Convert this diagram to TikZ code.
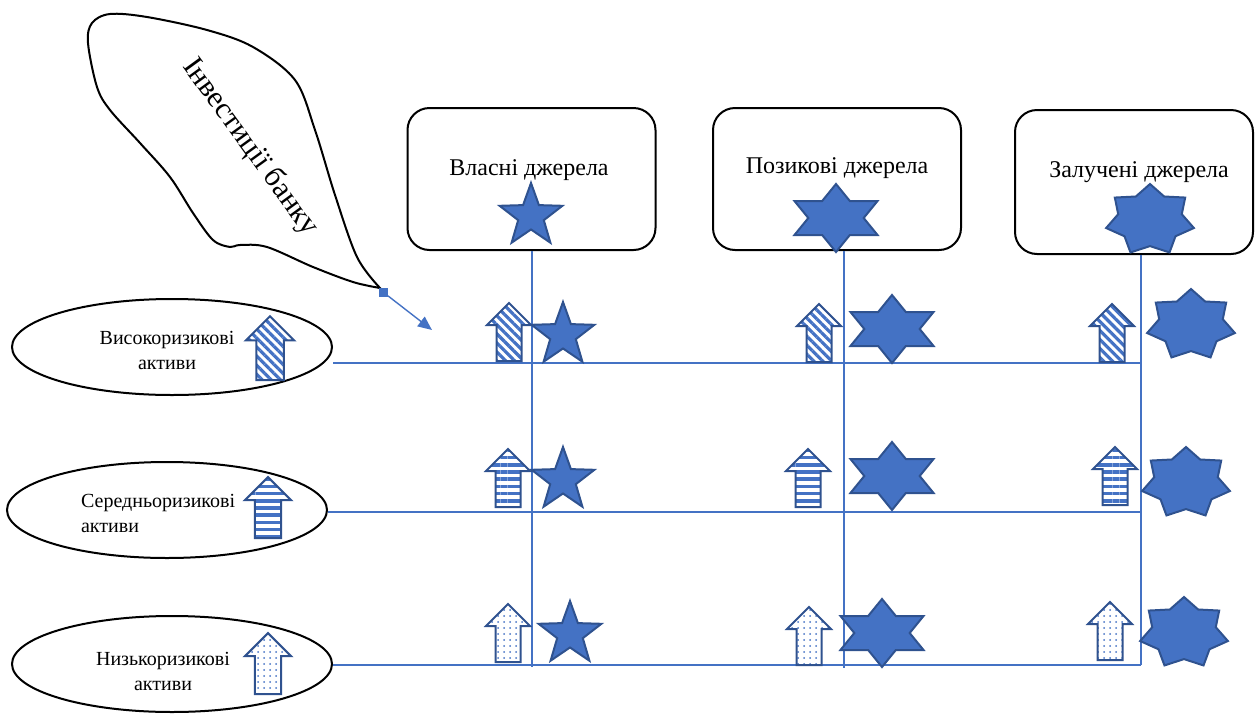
\documentclass[tikz,border=0pt]{standalone}
\usepackage{fontspec}
\setmainfont{Liberation Serif}
\usepackage{xcolor}
\definecolor{riskBlue}{RGB}{68, 114, 196}
\definecolor{riskEdge}{RGB}{47, 82, 143}
\usepackage{tikz}
\usetikzlibrary{arrows.meta, positioning, shapes.geometric, patterns.meta}

\tikzset{
    srcbox/.style={draw, line width=1pt, rounded corners=11pt, minimum width=124pt, minimum height=71pt, inner sep=0pt},
    assetell/.style={ellipse, draw, line width=1pt, minimum width=160pt, minimum height=48pt, inner sep=0pt},
    gridline/.style={draw=riskBlue, line width=0.6pt},
    starbase/.style={star, draw=riskEdge, fill=riskBlue, line width=1pt, inner sep=0pt, transform shape},
    starfive/.style={starbase, star points=5, star point ratio=2.45, minimum size=#1},
    starsix/.style={starbase, star points=6, star point ratio=1.732, xscale=1.41, minimum size=#1},
    starseven/.style={starbase, star points=7, star point ratio=1.38, xscale=1.25, minimum size=#1},
    riskarrow/.pic={
        \path[pic actions] (-12.5,0) -- (-12.5,-36) -- (-22,-36) -- (0,-58)
            -- (22,-36) -- (12.5,-36) -- (12.5,0) -- cycle;
    },
    highrisk/.style={draw=riskEdge, line width=1pt, pattern={Lines[angle=-45, distance=3.2pt, line width=1.6pt]}, pattern color=riskBlue},
    midrisk/.style={draw=riskEdge, line width=1pt, pattern={Lines[distance=3.6pt, line width=1.8pt]}, pattern color=riskBlue},
    lowrisk/.style={draw=riskEdge, line width=1pt, pattern={Dots[distance=3pt, radius=0.5pt]}, pattern color=riskBlue},
}

\begin{document}
\begin{tikzpicture}[x=0.5pt, y=-0.5pt]
    \useasboundingbox (0,0) rectangle (1255,724);

    % callout
    \draw[line width=1pt] plot[smooth, tension=0.55] coordinates {
        (380,288) (357,257) (335,195) (315,130) (295,80) (253,47) (207,30)
        (147,17) (110,14) (92,23) (88,43) (97,87) (110,110) (140,143)
        (170,177) (193,213) (213,240) (230,247) (240,245) (267,247)
        (313,267) (353,282) (380,288)} -- cycle;
    \node[rotate=-54, font=\fontsize{15}{18}\selectfont] (calltxt) at (250,147) {Інвестиції банку};
    \node[fill=riskBlue, minimum size=4.5pt, inner sep=0pt] (tail) at (383,292) {};
    \coordinate (aim) at (432,330);
    \draw[riskBlue, line width=0.7pt, -{Triangle[length=7pt, width=6pt]}] (tail) -- (aim);

    % sources
    \node[srcbox] (b1) at (531.5,179) {};
    \node[srcbox] (b2) at (837,179) {};
    \node[srcbox, minimum width=119pt, minimum height=72pt] (b3) at (1134,182) {};
    \node[font=\fontsize{12}{14}\selectfont] (b1txt) at (529,170) {Власні джерела};
    \node[font=\fontsize{12}{14}\selectfont] (b2txt) at (837,168) {Позикові джерела};
    \node[font=\fontsize{12}{14}\selectfont] (b3txt) at (1139,172) {Залучені джерела};

    % assets
    \node[assetell] (e1) at (172,347) {};
    \node[assetell] (e2) at (167,510) {};
    \node[assetell] (e3) at (172,664) {};
    \node[align=center, font=\fontsize{10}{12.5}\selectfont] (e1txt) at (167,350) {Високоризикові\\активи};
    \node[align=left, anchor=west, font=\fontsize{10}{12.5}\selectfont] (e2txt) at (74,513) {Середньоризикові\\активи};
    \node[align=center, font=\fontsize{10}{12.5}\selectfont] (e3txt) at (163,671) {Низькоризикові\\активи};

    % grid
    \coordinate (h1) at (1141,363);
    \coordinate (h2) at (1141,512);
    \coordinate (h3) at (1141,665);
    \coordinate (v1) at (532,667);
    \coordinate (v2) at (844,668);
    \draw[gridline] (e1.east |- h1) -- (h1);
    \draw[gridline] (e2.east |- h2) -- (h2);
    \draw[gridline] (e3.east |- h3) -- (h3);
    \draw[gridline] (v1 |- b1.south) -- (v1);
    \draw[gridline] (v2 |- b2.south) -- (v2);
    \draw[gridline] (h3 |- b3.south) -- (h3);

    % arrows
    \pic[highrisk, scale=1.1] (ea1) at (270,380) {riskarrow};
    \pic[midrisk, scale=1.05] (ea2) at (268,538) {riskarrow};
    \pic[lowrisk, scale=1.05] (ea3) at (268,694) {riskarrow};
    \pic[highrisk] (a11) at (509,361) {riskarrow};
    \pic[highrisk] (a12) at (819,362) {riskarrow};
    \pic[highrisk] (a13) at (1112,362) {riskarrow};
    \pic[midrisk] (a21) at (508,507) {riskarrow};
    \pic[midrisk] (a22) at (808,507) {riskarrow};
    \pic[midrisk] (a23) at (1115,505) {riskarrow};
    \pic[lowrisk] (a31) at (508,662) {riskarrow};
    \pic[lowrisk] (a32) at (809,665) {riskarrow};
    \pic[lowrisk] (a33) at (1110,660) {riskarrow};

    % stars
    \node[starfive=33pt] (s0a) at (531,216) {};
    \node[starsix=34pt] (s0b) at (836,218) {};
    \node[starseven=36pt] (s0c) at (1150,220) {};
    \node[starfive=33pt] (s11) at (563,335) {};
    \node[starsix=34pt] (s12) at (892,329) {};
    \node[starseven=36pt] (s13) at (1191,325) {};
    \node[starfive=33pt] (s21) at (563,480) {};
    \node[starsix=34pt] (s22) at (892,476) {};
    \node[starseven=36pt] (s23) at (1186,483) {};
    \node[starfive=33pt] (s31) at (570,634) {};
    \node[starsix=34pt] (s32) at (882,633) {};
    \node[starseven=36pt] (s33) at (1184,633) {};
\end{tikzpicture}
\end{document}
